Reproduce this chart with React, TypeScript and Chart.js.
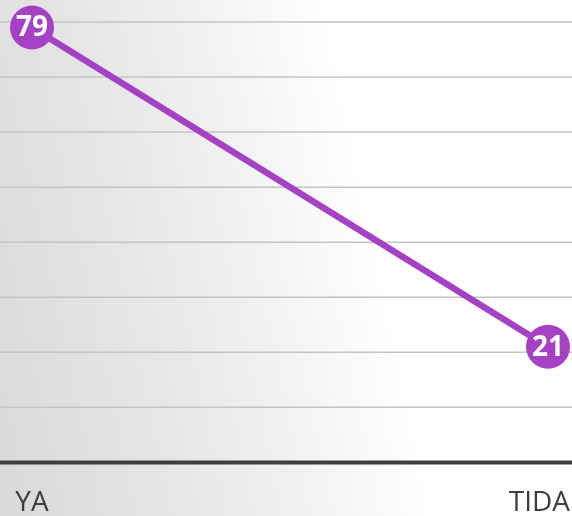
import React, { useEffect, useRef } from "react";
import { Chart, registerables } from "chart.js";

Chart.register(...registerables);

const categories: string[] = ["YA", "TIDAK"];
const values: number[] = [79, 21];
const yMin = 0;
const yMax = 80;
const yStep = 10;

const PURPLE = "#a541c4";

const hLinesPlugin = {
  id: "hLines",
  beforeDatasetsDraw(chart: any) {
    const { ctx, width } = chart;
    const ys = chart.scales.y;
    ctx.save();
    ys.ticks.forEach((t: any) => {
      const py = ys.getPixelForValue(t.value);
      ctx.beginPath();
      if (t.value === 0) {
        ctx.strokeStyle = "#3e3e3e";
        ctx.lineWidth = 4;
      } else {
        ctx.strokeStyle = "#c4c4c4";
        ctx.lineWidth = 1.5;
      }
      ctx.moveTo(0, py);
      ctx.lineTo(width, py);
      ctx.stroke();
    });
    ctx.restore();
  },
};

const labelPlugin = {
  id: "pointLabels",
  afterDatasetsDraw(chart: any) {
    const { ctx } = chart;
    const meta = chart.getDatasetMeta(0);
    ctx.save();
    ctx.fillStyle = "#ffffff";
    ctx.font = "bold 28px 'Open Sans'";
    ctx.textAlign = "center";
    ctx.textBaseline = "middle";
    meta.data.forEach((el: any, i: number) => {
      ctx.fillText(String(values[i]), el.x, el.y + 1);
    });
    ctx.restore();
  },
};

export default function App() {
  const ref = useRef<HTMLCanvasElement | null>(null);
  useEffect(() => {
    if (!ref.current) return;
    const chart = new Chart(ref.current, {
      type: "line",
      data: {
        labels: categories,
        datasets: [
          {
            data: values,
            borderColor: PURPLE,
            backgroundColor: PURPLE,
            borderWidth: 6.5,
            pointRadius: 22,
            pointHoverRadius: 22,
            pointBackgroundColor: PURPLE,
            pointBorderWidth: 0,
            clip: false as any,
            tension: 0,
          },
        ],
      },
      options: {
        animation: false,
        responsive: false,
        events: [],
        layout: { padding: { left: 52, right: 72, top: 22, bottom: 16 } },
        plugins: { legend: { display: false }, tooltip: { enabled: false } },
        scales: {
          x: {
            offset: false,
            grid: { display: false, drawTicks: false },
            border: { display: false },
            ticks: {
              color: "#3f3f3f",
              font: { family: "'Open Sans'", size: 28 },
              padding: 24,
              maxRotation: 0,
              autoSkip: false,
            },
          },
          y: {
            display: false,
            min: yMin,
            max: yMax,
            grid: { display: false, drawTicks: false },
            border: { display: false },
            ticks: { display: false, stepSize: yStep },
          },
        },
      },
      plugins: [hLinesPlugin, labelPlugin],
    });
    return () => chart.destroy();
  }, []);

  return (
    <div
      style={{
        position: "fixed",
        left: 0,
        top: 0,
        width: 572,
        height: 516,
        overflow: "hidden",
        background:
          "linear-gradient(78deg, #d9d9d9 0%, #e5e5e5 25%, #f2f2f2 46%, #ffffff 64%, #ffffff 100%)",
      }}
    >
      <canvas
        ref={ref}
        width={640}
        height={560}
        style={{ width: 640, height: 560, display: "block", marginLeft: -20 }}
      />
    </div>
  );
}
